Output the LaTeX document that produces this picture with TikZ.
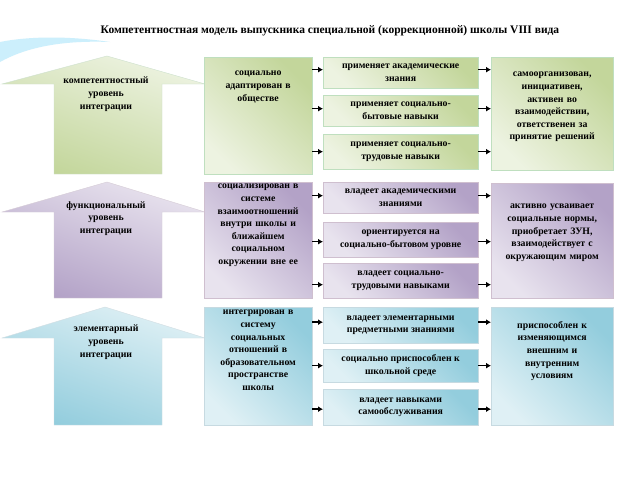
\documentclass[tikz,border=0pt]{standalone}
\usepackage{fontspec}
\setmainfont{Liberation Serif}
\usetikzlibrary{arrows.meta}
\begin{document}
\begin{tikzpicture}[x=1pt,y=-1pt,
 bx/.style={draw=#1!50!black!25,line width=0.3pt,anchor=north west,inner sep=0pt},
 G/.style={bx=green,top color=gfill!30,bottom color=gfill,shading angle=135},
 P/.style={bx=violet,top color=pfill!30,bottom color=pfill,shading angle=135},
 B/.style={bx=cyan,top color=bfill!30,bottom color=bfill,shading angle=135},
 txt/.style={font=\bfseries\fontsize{9.8}{12.6}\selectfont,align=center,inner sep=1pt},
 arr/.style={-{Latex[length=5pt,width=6pt]},line width=1.5pt}]
\definecolor{gfill}{HTML}{C3D69B}
\definecolor{pfill}{HTML}{B3A2C7}
\definecolor{bfill}{HTML}{93CDDD}
\useasboundingbox (0,0) rectangle (640,480);
\fill[white] (0,0) rectangle (640,480);
% swoosh
\fill[cyan!20] (0,42) .. controls (30,36) and (70,36) .. (110,42) .. controls (60,40) and (25,48) .. (0,62) -- cycle;
\node[font=\bfseries\fontsize{11.5}{14}\selectfont] (title) at (330,31) {Компетентностная модель выпускника специальной (коррекционной) школы VIII вида};
% house arrows
\def\house#1#2#3#4#5{\path[#1] (#2,#3) -- (205,#4) -- (162,#4) -- (162,#5) -- (54,#5) -- (54,#4) -- (2,#4) -- cycle;}
\house{draw=green!40!black!20,top color=gfill!30,bottom color=gfill,shading angle=-20}{107}{56}{84}{174}
\house{draw=violet!40!black!20,top color=pfill!30,bottom color=pfill,shading angle=-20}{107}{182}{212}{298}
\house{draw=cyan!40!black!20,top color=bfill!30,bottom color=bfill,shading angle=-20}{105}{307}{338}{425}
\node[txt,anchor=north] (h1) at (106,76) {компетентностный\\уровень\\интеграции};
\node[txt,anchor=north] (h2) at (106,200) {функциональный\\уровень\\интеграции};
\node[txt,anchor=north] (h3) at (106,324) {элементарный\\уровень\\интеграции};
% row 1
\node[G,minimum width=108,minimum height=117] (l1) at (204,57) {};
\node[txt,text width=104,anchor=north] at ([yshift=-13]l1.north) {социально\\адаптирован в\\обществе};
\node[G,minimum width=155,minimum height=31,txt] (m11) at (323,57) {применяет академические\\знания};
\node[G,minimum width=155,minimum height=31,txt] (m12) at (323,95) {применяет социально-\\бытовые навыки};
\node[G,minimum width=155,minimum height=35,txt] (m13) at (323,134) {применяет социально-\\трудовые навыки};
\node[G,minimum width=122,minimum height=113] (r1) at (491,57) {};
\node[txt,text width=118,anchor=north] at ([yshift=-14]r1.north) {самоорганизован,\\инициативен,\\активен во\\взаимодействии,\\ответственен за\\принятие решений};
% row 2
\node[P,minimum width=108,minimum height=116] (l2) at (204,182) {};
\node[txt,text width=106,anchor=north] at ([yshift=-1]l2.north) {социализирован в\\системе\\взаимоотношений\\внутри школы и\\ближайшем\\социальном\\окружении вне ее};
\node[P,minimum width=155,minimum height=31,txt] (m21) at (323,182) {владеет академическими\\знаниями};
\node[P,minimum width=155,minimum height=35,txt] (m22) at (323,222) {ориентируется на\\социально-бытовом уровне};
\node[P,minimum width=155,minimum height=35,txt] (m23) at (323,263) {владеет социально-\\трудовыми навыками};
\node[P,minimum width=122,minimum height=115] (r2) at (491,183) {};
\node[txt,text width=120,anchor=north] at ([yshift=-20]r2.north) {активно усваивает\\социальные нормы,\\приобретает ЗУН,\\взаимодействует с\\окружающим миром};
% row 3
\node[B,minimum width=108,minimum height=118] (l3) at (204,307) {};
\node[txt,text width=106,anchor=north] at ([yshift=-2]l3.north) {интегрирован в\\систему\\социальных\\отношений в\\образовательном\\пространстве\\школы};
\node[B,minimum width=155,minimum height=36,txt] (m31) at (323,307) {владеет элементарными\\предметными знаниями};
\node[B,minimum width=155,minimum height=33,txt] (m32) at (323,349) {социально приспособлен к\\школьной среде};
\node[B,minimum width=155,minimum height=36,txt] (m33) at (323,389) {владеет навыками\\самообслуживания};
\node[B,minimum width=122,minimum height=118] (r3) at (491,307) {};
\node[txt,text width=116,anchor=north] at ([yshift=-13]r3.north) {приспособлен к\\изменяющимся\\внешним и\\внутренним\\условиям};
% connectors
\foreach \m/\l/\r/\d in {m11/l1/r1/3,m12/l1/r1/2,m13/l1/r1/0,m21/l2/r2/2,m22/l2/r2/-2,m23/l2/r2/-4,m31/l3/r3/3,m32/l3/r3/0,m33/l3/r3/-2}{
 \draw[arr] ([yshift=\d]\l.east |- \m.west) -- ([yshift=\d]\m.west);
 \draw[arr] ([yshift=\d]\m.east) -- ([yshift=\d]\r.west |- \m.east);
}
\end{tikzpicture}
\end{document}
